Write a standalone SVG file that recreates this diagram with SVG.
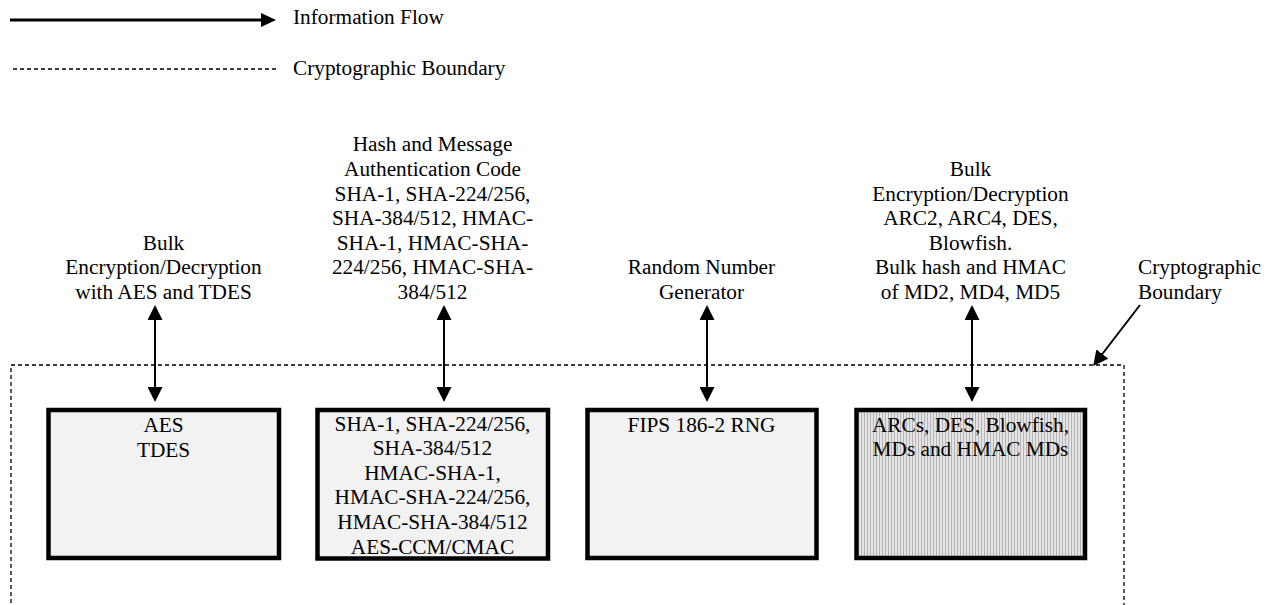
<svg xmlns="http://www.w3.org/2000/svg" width="1271" height="605" viewBox="0 0 1271 605">
<style>
text{font-family:"Liberation Serif","Times New Roman",serif;font-size:21.3px;fill:#000}
.c{text-anchor:middle}
.box{fill:#f2f2f2;stroke:#000;stroke-width:4.5}
.hatch{fill:url(#vstripes);stroke:#000;stroke-width:4.5}
.flow{stroke:#000;stroke-width:2;fill:none}
.bound{stroke:#000;stroke-width:1.3;fill:none;stroke-dasharray:4,3}
</style>
<defs>
<marker id="ah" markerUnits="userSpaceOnUse" markerWidth="15" markerHeight="15" refX="12" refY="7.5" orient="auto-start-reverse" viewBox="0 0 15 15">
<path d="M0,0 L15,7.5 L0,15 z" fill="#000"/>
</marker>
<pattern id="vstripes" patternUnits="userSpaceOnUse" width="3" height="10">
<rect width="3" height="10" fill="#e4e4e4"/>
<rect width="1" height="10" fill="#b4b4b4"/>
</pattern>
</defs>
<rect width="1271" height="605" fill="#fff"/>

<g id="legend">
<line x1="10" y1="20" x2="263" y2="20" stroke="#000" stroke-width="3"/>
<polygon points="261,13 276,20 261,27" fill="#000"/>
<text x="293" y="24">Information Flow</text>
<line x1="13" y1="69" x2="279" y2="69" class="bound"/>
<text x="293" y="75">Cryptographic Boundary</text>
</g>

<g id="boundary">
<path class="bound" d="M11,610 L11,365 L1124,365 L1124,610"/>
</g>

<g id="boundary-label">
<text x="1138" y="274">Cryptographic</text>
<text x="1138" y="299">Boundary</text>
</g>

<g id="label1">
<text class="c" x="163.5" y="249.8">Bulk</text>
<text class="c" x="163.5" y="274.4">Encryption/Decryption</text>
<text class="c" x="163.5" y="299">with AES and TDES</text>
</g>

<g id="label2">
<text class="c" x="432.5" y="151.4">Hash and Message</text>
<text class="c" x="432.5" y="176">Authentication Code</text>
<text class="c" x="432.5" y="200.6">SHA-1, SHA-224/256,</text>
<text class="c" x="432.5" y="225.2">SHA-384/512, HMAC-</text>
<text class="c" x="432.5" y="249.8">SHA-1, HMAC-SHA-</text>
<text class="c" x="432.5" y="274.4">224/256, HMAC-SHA-</text>
<text class="c" x="432.5" y="299">384/512</text>
</g>

<g id="label3">
<text class="c" x="701.5" y="274.4">Random Number</text>
<text class="c" x="701.5" y="299">Generator</text>
</g>

<g id="label4">
<text class="c" x="970.5" y="176">Bulk</text>
<text class="c" x="970.5" y="200.6">Encryption/Decryption</text>
<text class="c" x="970.5" y="225.2">ARC2, ARC4, DES,</text>
<text class="c" x="970.5" y="249.8">Blowfish.</text>
<text class="c" x="970.5" y="274.4">Bulk hash and HMAC</text>
<text class="c" x="970.5" y="299">of MD2, MD4, MD5</text>
</g>

<g id="box1">
<rect class="box" x="48.5" y="410" width="230.5" height="148"/>
<text class="c" x="163.5" y="432">AES</text>
<text class="c" x="163.5" y="457">TDES</text>
</g>

<g id="box2">
<rect class="box" x="317.5" y="410" width="230.5" height="148.5"/>
<text class="c" x="432.5" y="430.5">SHA-1, SHA-224/256,</text>
<text class="c" x="432.5" y="455.1">SHA-384/512</text>
<text class="c" x="432.5" y="479.7">HMAC-SHA-1,</text>
<text class="c" x="432.5" y="504.3">HMAC-SHA-224/256,</text>
<text class="c" x="432.5" y="528.9">HMAC-SHA-384/512</text>
<text class="c" x="432.5" y="553.5">AES-CCM/CMAC</text>
</g>

<g id="box3">
<rect class="box" x="587.5" y="410" width="229" height="148"/>
<text class="c" x="701.5" y="431.5">FIPS 186-2 RNG</text>
</g>

<g id="box4">
<rect class="hatch" x="856.5" y="410" width="228.5" height="148"/>
<text class="c" x="970.5" y="431.5">ARCs, DES, Blowfish,</text>
<text class="c" x="970.5" y="456">MDs and HMAC MDs</text>
</g>

<g id="connectors">
<line class="flow" x1="155" y1="308" x2="155" y2="399" marker-start="url(#ah)" marker-end="url(#ah)"/>
<line class="flow" x1="444" y1="308" x2="444" y2="399" marker-start="url(#ah)" marker-end="url(#ah)"/>
<line class="flow" x1="707" y1="308" x2="707" y2="399" marker-start="url(#ah)" marker-end="url(#ah)"/>
<line class="flow" x1="972" y1="308" x2="972" y2="399" marker-start="url(#ah)" marker-end="url(#ah)"/>
<line class="flow" x1="1140" y1="305" x2="1095" y2="363.5" marker-end="url(#ah)"/>
</g>
</svg>
